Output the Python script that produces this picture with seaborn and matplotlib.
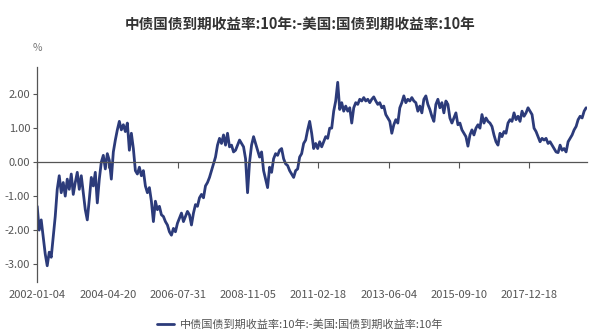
import numpy as np
import pandas as pd
import matplotlib
matplotlib.use("Agg")
import matplotlib.pyplot as plt
import seaborn as sns

title = "中债国债到期收益率:10年:-美国:国债到期收益率:10年"
series_name = "中债国债到期收益率:10年:-美国:国债到期收益率:10年"
start_date = "2002-01-04"
end_date = "2019-10-30"
tick_dates = ["2002-01-04", "2004-04-20", "2006-07-31", "2008-11-05",
              "2011-02-18", "2013-06-04", "2015-09-10", "2017-12-18"]
y_ticks = [-3.0, -2.0, -1.0, 0.0, 1.0, 2.0]

spread = [
    -1.3, -2.0, -1.7, -2.2, -2.7, -3.05, -2.65, -2.8, -2.2, -1.6,
    -0.8, -0.4, -0.9, -0.6, -1.0, -0.5, -0.8, -0.35, -0.95, -0.6,
    -0.3, -0.8, -0.4, -0.9, -1.4, -1.7, -1.1, -0.45, -0.7, -0.3,
    -1.2, -0.5, 0.0, 0.2, -0.2, 0.25, 0.05, -0.5, 0.3, 0.65,
    0.95, 1.2, 0.95, 1.1, 0.9, 1.15, 0.35, 0.85, 0.4, -0.25,
    -0.35, -0.15, -0.4, -0.25, -0.7, -0.9, -0.75, -1.15, -1.75, -1.15,
    -1.4, -1.3, -1.55, -1.6, -1.75, -1.85, -2.05, -2.15, -1.95, -2.05,
    -1.8, -1.65, -1.5, -1.75, -1.6, -1.45, -1.55, -1.85, -1.5, -1.25,
    -1.3, -1.05, -0.95, -1.05, -0.7, -0.6, -0.45, -0.25, -0.05, 0.15,
    0.5, 0.7, 0.55, 0.8, 0.5, 0.85, 0.45, 0.5, 0.3, 0.35,
    0.5, 0.65, 0.55, 0.45, 0.1, -0.9, 0.0, 0.5, 0.75, 0.55,
    0.35, 0.15, 0.3, -0.25, -0.5, -0.75, -0.15, -0.3, 0.1, 0.25,
    0.2, 0.35, 0.4, 0.1, -0.05, -0.1, -0.25, -0.35, -0.45, -0.25,
    -0.2, 0.15, 0.25, 0.55, 0.65, 0.95, 1.2, 0.85, 0.4, 0.55,
    0.4, 0.6, 0.45, 0.6, 0.75, 0.7, 1.0, 1.0, 1.5, 1.8,
    2.35, 1.55, 1.75, 1.5, 1.65, 1.5, 1.6, 1.15, 1.6, 1.75,
    1.7, 1.85, 1.8, 1.9, 1.8, 1.85, 1.75, 1.85, 1.92, 1.8,
    1.7, 1.75, 1.6, 1.65, 1.4, 1.3, 1.2, 0.85, 1.1, 1.25,
    1.15, 1.6, 1.75, 1.95, 1.75, 1.85, 1.8, 1.9, 1.8, 1.75,
    1.5, 1.65, 1.45, 1.85, 1.95, 1.7, 1.55, 1.35, 1.2, 1.7,
    1.85, 1.6, 1.75, 1.45, 1.8, 1.7, 1.3, 1.15, 1.3, 1.45,
    1.1, 1.15, 0.95, 0.85, 0.75, 0.47, 0.8, 0.95, 0.8, 1.0,
    1.1, 1.0, 1.4, 1.15, 1.3, 1.2, 1.15, 1.05, 0.8, 0.6,
    0.5, 0.85, 0.75, 0.9, 0.85, 1.15, 1.25, 1.2, 1.45, 1.25,
    1.35, 1.2, 1.5, 1.35, 1.45, 1.6, 1.5, 1.4, 1.0, 0.9,
    0.75, 0.6, 0.7, 0.65, 0.7, 0.55, 0.6, 0.5, 0.4, 0.3,
    0.28, 0.5, 0.35, 0.4, 0.3, 0.6, 0.7, 0.8, 0.95, 1.05,
    1.25, 1.35, 1.3, 1.5, 1.6,
]

dates = pd.date_range(start_date, end_date, periods=len(spread))
df = pd.DataFrame({"date": dates, "value": spread})

sns.set_theme(style="white")
plt.rcParams["font.family"] = ["Noto Sans CJK SC", "DejaVu Sans"]
plt.rcParams["axes.unicode_minus"] = False

line_color = "#2c3b7a"
grey = "#555555"

fig = plt.figure(figsize=(6.0, 3.35), dpi=100)
ax = fig.add_axes([0.062, 0.158, 0.917, 0.642])

sns.lineplot(data=df, x="date", y="value", ax=ax, color=line_color,
             linewidth=2.0, label=series_name, legend=False)

ax.set_xlim(dates[0], dates[-1] + pd.Timedelta(days=15))
ax.set_ylim(-3.53, 2.8)

# spines
for s in ["top", "right"]:
    ax.spines[s].set_visible(False)
ax.spines["left"].set_color(grey)
ax.spines["left"].set_linewidth(0.9)
ax.spines["bottom"].set_position(("data", 0))
ax.spines["bottom"].set_color(grey)
ax.spines["bottom"].set_linewidth(0.9)

ticks = pd.to_datetime(tick_dates)
ax.set_xticks(ticks)
ax.tick_params(axis="x", which="both", bottom=True, length=4, width=0.8,
               color=grey, direction="out", labelbottom=False)

sec = ax.secondary_xaxis("bottom")
sec.set_xticks(ticks)
sec.set_xticklabels(tick_dates)
sec.spines["bottom"].set_visible(False)
sec.tick_params(axis="x", length=0, pad=6, labelsize=8, labelcolor="#555555")

ax.set_yticks(y_ticks)
ax.set_yticklabels([f"{v:.2f}" for v in y_ticks])
ax.tick_params(axis="y", left=True, length=3, width=0.8, color=grey,
               labelsize=8, labelcolor="#555555", pad=2)
ax.set_xlabel("")
ax.set_ylabel("")

fig.text(0.5, 0.93, title, ha="center", va="center", fontsize=10.5,
         fontweight="bold", color="#333333")
fig.text(0.055, 0.858, "%", ha="left", va="center", fontsize=7.5, color="#777777")

handles, labels = ax.get_legend_handles_labels()
fig.legend(handles, labels, loc="center", bbox_to_anchor=(0.5, 0.03),
           frameon=False, fontsize=8, labelcolor="#555555",
           handlelength=1.6, handletextpad=0.5)

fig.savefig("out.png", dpi=100)
